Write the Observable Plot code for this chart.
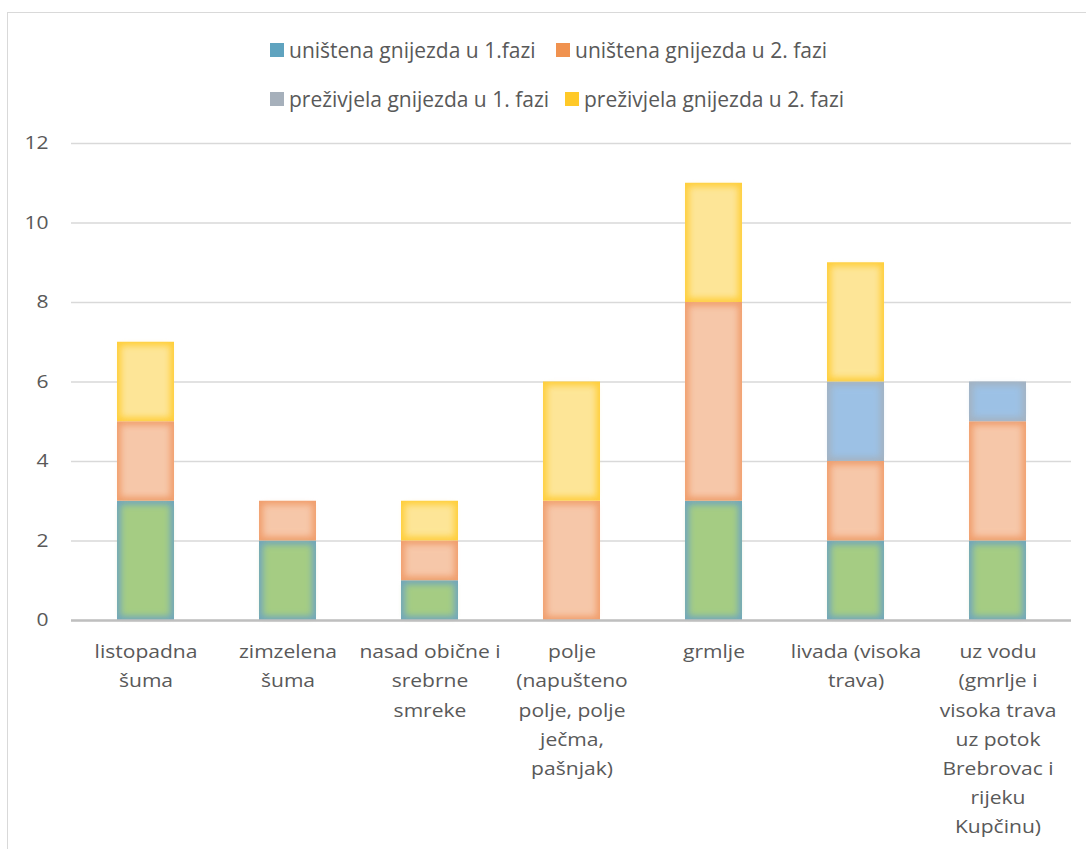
<!DOCTYPE html>
<html>
<head>
<meta charset="utf-8">
<script src="https://cdn.jsdelivr.net/npm/d3@7"></script>
<script src="https://cdn.jsdelivr.net/npm/@observablehq/plot@0.6"></script>
<style>
  html, body { margin: 0; padding: 0; background: #fff; }
  #wrap { position: relative; width: 1086px; height: 849px; overflow: hidden; font-family: "Open Sans", sans-serif; }
  #frame { position: absolute; left: 7px; top: 12px; width: 1200px; height: 1000px; border-left: 1.5px solid #d9d9d9; border-top: 1.5px solid #d9d9d9; box-sizing: border-box; }
  #legend { position: absolute; left: 0; top: 0; }
  .item { position: absolute; display: flex; align-items: center; font-size: 21px; color: #595959; height: 30px; white-space: nowrap; }
  .sw { width: 14px; height: 14px; flex: none; margin-right: 5px; }
  #chart { position: absolute; left: 0; top: 0; }
  .inner rect { filter: blur(3px); }
</style>
</head>
<body>
<div id="wrap">
  <div id="frame"></div>
  <div id="chart"></div>
  <div id="legend"></div>
</div>
<script>
const categories = [
  "listopadna šuma",
  "zimzelena šuma",
  "nasad obične i srebrne smreke",
  "polje (napušteno polje, polje ječma, pašnjak)",
  "grmlje",
  "livada (visoka trava)",
  "uz vodu (gmrlje i visoka trava uz potok Brebrovac i rijeku Kupčinu)"
];
const tickLabels = [
  "listopadna\nšuma",
  "zimzelena\nšuma",
  "nasad obične i\nsrebrne\nsmreke",
  "polje\n(napušteno\npolje, polje\nječma,\npašnjak)",
  "grmlje",
  "livada (visoka\ntrava)",
  "uz vodu\n(gmrlje i\nvisoka trava\nuz potok\nBrebrovac i\nrijeku\nKupčinu)"
];
const seriesNames = [
  "uništena gnijezda u 1.fazi",
  "uništena gnijezda u 2. fazi",
  "preživjela gnijezda u 1. fazi",
  "preživjela gnijezda u 2. fazi"
];
const unisteno1 = [3, 2, 1, 0, 3, 2, 2];
const unisteno2 = [2, 1, 1, 3, 5, 2, 3];
const prezivjelo1 = [0, 0, 0, 0, 0, 2, 1];
const prezivjelo2 = [2, 0, 1, 3, 3, 3, 0];
const yTicks = [0, 2, 4, 6, 8, 10, 12];

const legendColors = ["#5fa3bf", "#f0924f", "#a6b0bb", "#ffc928"];
const edgeColors = ["#72a8bb", "#f19f6e", "#a3b3c3", "#ffcf3c"];
const centerColors = ["#a5cc83", "#f6c7a9", "#9cc1e5", "#fde597"];

const seriesValues = [unisteno1, unisteno2, prezivjelo1, prezivjelo2];
const data = [];
categories.forEach((c, i) => {
  seriesValues.forEach((vals, s) => {
    if (vals[i] > 0) data.push({cat: c, s, value: vals[i]});
  });
});

const labelOf = new Map(categories.map((c, i) => [c, tickLabels[i]]));

const plot = Plot.plot({
  width: 1086,
  height: 849,
  marginTop: 143,
  marginBottom: 229,
  marginLeft: 71,
  marginRight: 15,
  style: {fontFamily: "'Open Sans', sans-serif", background: "transparent", overflow: "visible"},
  x: {domain: categories, paddingInner: 0.6, paddingOuter: 0.3, align: 0.5},
  y: {domain: [0, 12]},
  color: {type: "identity"},
  marks: [
    Plot.gridY(yTicks, {stroke: "#d9d9d9", strokeOpacity: 1, strokeWidth: 1.3}),
    Plot.barY(data, {x: "cat", y: "value", z: "s", fill: d => edgeColors[d.s], order: "s"}),
    Plot.barY(data, {x: "cat", y: "value", z: "s", fill: d => centerColors[d.s], order: "s", inset: 4, className: "inner"}),
    Plot.ruleY([0], {stroke: "#bfbfbf", strokeWidth: 2.5}),
    Plot.axisY({ticks: yTicks, tickSize: 0, tickPadding: 23, fontSize: 18, fill: "#595959", label: null, className: "stretch"}),
    Plot.axisX({tickSize: 0, tickPadding: 17, fontSize: 18, fill: "#595959", label: null, lineHeight: 1.62, tickFormat: d => labelOf.get(d), textAnchor: "middle", className: "stretch"})
  ]
});
document.getElementById("chart").appendChild(plot);

// Reference axis text is horizontally wider; stretch each label around its anchor.
plot.querySelectorAll(".stretch text").forEach(t => {
  const tr = t.getAttribute("transform") || "";
  t.setAttribute("transform", tr + " scale(1.17,1)");
});

const legend = document.getElementById("legend");
const legendPos = [[270, 35], [556, 35], [270, 84], [565, 84]];
seriesNames.forEach((name, i) => {
  const item = document.createElement("div");
  item.className = "item";
  item.style.left = legendPos[i][0] + "px";
  item.style.top = legendPos[i][1] + "px";
  const sw = document.createElement("span");
  sw.className = "sw";
  sw.style.background = legendColors[i];
  item.appendChild(sw);
  item.appendChild(document.createTextNode(name));
  legend.appendChild(item);
});
</script>
</body>
</html>
